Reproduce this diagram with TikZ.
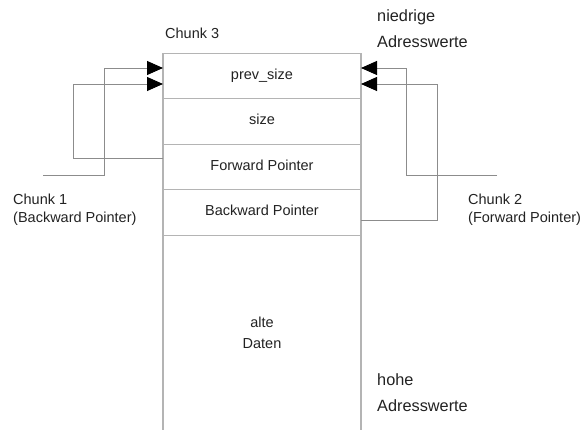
\documentclass[tikz,border=0pt]{standalone}
\usepackage{fontspec}
\setmainfont{Liberation Sans}
\usetikzlibrary{arrows.meta}
\definecolor{cellline}{HTML}{B4B4B4}
\definecolor{linkline}{HTML}{8C8C8C}
\definecolor{labeltext}{HTML}{222222}
\begin{document}
\begin{tikzpicture}[x=1pt,y=-1pt,
  cell/.style={draw=cellline, line width=1.3pt, minimum width=198pt,
    minimum height=45.5pt, inner sep=0pt, outer sep=0pt,
    text height=10pt, text depth=3pt,
    font=\fontsize{14.5}{17}\selectfont, text=labeltext},
  datacell/.style={minimum width=198pt, minimum height=195pt, inner sep=0pt,
    outer sep=0pt, align=center, text=labeltext,
    font=\fontsize{14.5}{21}\selectfont},
  wall/.style={draw=cellline, line width=1.3pt},
  link/.style={draw=linkline, line width=0.9pt,
    -{Triangle[length=16pt,width=14pt,color=black]}},
  label/.style={anchor=base west, inner sep=0pt, text=labeltext,
    font=\fontsize{14.5}{17}\selectfont},
  addr/.style={anchor=base west, inner sep=0pt, text=labeltext,
    font=\fontsize{16.3}{20}\selectfont}]
\useasboundingbox (0,0) rectangle (584,430);

% the chunk's fields, top to bottom
\node[cell] (prev) at (262,76)    {prev\_size};
\node[cell] (size) at (262,121.5) {size};
\node[cell] (fwd)  at (262,167)   {Forward Pointer};
\node[cell] (bwd)  at (262,212.5) {Backward Pointer};
\node[datacell] (data) at (262,332.5) {alte\\Daten};
\draw[wall] (data.north west) -- (data.south west);
\draw[wall] (data.north east) -- (data.south east);

% labels
\node[label] (chunk3) at (165,39) {Chunk 3};
\node[addr] (low1) at (377,22) {niedrige};
\node[addr] (low2) at (377,48) {Adresswerte};
\node[addr] (high1) at (377,386) {hohe};
\node[addr] (high2) at (377,412) {Adresswerte};
\node[label] (c1a) at (13,205) {Chunk 1};
\node[label] (c1b) at (13,223) {(Backward Pointer)};
\node[label] (c2a) at (468,205) {Chunk 2};
\node[label] (c2b) at (468,223) {(Forward Pointer)};

% free ends of the links to the neighbouring chunks
\coordinate (c1tail) at (43,175);
\coordinate (c2tail) at (497,175);

% left side
\draw[link] (c1tail) -- ++(61,0) |- ([yshift=8pt]prev.west);
\draw[link] ([yshift=9pt]fwd.west) -- ++(-90,0) |- ([yshift=-8pt]prev.west);

% right side
\draw[link] (c2tail) -- ++(-91,0) |- ([yshift=8pt]prev.east);
\draw[link] ([yshift=-7.5pt]bwd.east) -- ++(76,0) |- ([yshift=-8pt]prev.east);
\end{tikzpicture}
\end{document}
